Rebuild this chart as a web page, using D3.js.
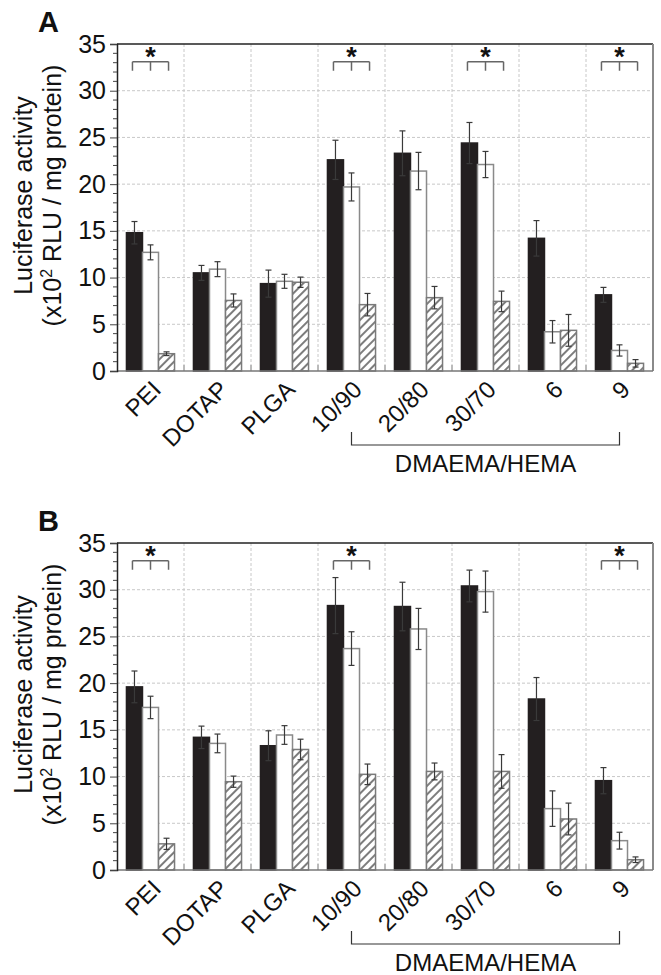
<!DOCTYPE html>
<html>
<head>
<meta charset="utf-8">
<script src="https://cdn.jsdelivr.net/npm/d3@7"></script>
<style>
  html, body { margin: 0; padding: 0; background: #fff; }
  svg { display: block; font-family: Arial, "Liberation Sans", Helvetica, sans-serif; }
</style>
</head>
<body>
<svg id="chart" width="661" height="975"></svg>
<script>
// ── Data ─────────────────────────────────────────────────────────
const groups = ['PEI', 'DOTAP', 'PLGA', '10/90', '20/80', '30/70', '6', '9'];
const series = ['black', 'white', 'hatched'];
const yTicks = [0, 5, 10, 15, 20, 25, 30, 35];

const aBlack      = [14.8, 10.5, 9.35, 22.6, 23.3, 24.4, 14.2, 8.15];
const aBlackErr   = [1.2, 0.8, 1.45, 2.1, 2.4, 2.2, 1.9, 0.8];
const aWhite      = [12.7, 10.9, 9.6, 19.7, 21.4, 22.1, 4.2, 2.2];
const aWhiteErr   = [0.8, 0.8, 0.75, 1.5, 2.0, 1.4, 1.2, 0.6];
const aHatched    = [1.85, 7.55, 9.5, 7.1, 7.85, 7.45, 4.35, 0.82];
const aHatchedErr = [0.2, 0.7, 0.55, 1.2, 1.2, 1.1, 1.7, 0.4];
const aSig        = ['PEI', '10/90', '30/70', '9'];

const bBlack      = [19.6, 14.2, 13.3, 28.3, 28.2, 30.4, 18.3, 9.56];
const bBlackErr   = [1.7, 1.2, 1.6, 3.0, 2.6, 1.7, 2.3, 1.4];
const bWhite      = [17.4, 13.55, 14.45, 23.7, 25.8, 29.8, 6.57, 3.14];
const bWhiteErr   = [1.2, 1.0, 1.0, 1.8, 2.2, 2.2, 1.9, 0.9];
const bHatched    = [2.8, 9.45, 12.9, 10.24, 10.55, 10.55, 5.46, 1.1];
const bHatchedErr = [0.6, 0.6, 1.1, 1.1, 0.9, 1.8, 1.7, 0.3];
const bSig        = ['PEI', '10/90', '9'];

const sigLevel = 33.1;
const bracketGroups = ['10/90', '9'];
const bracketLabel = 'DMAEMA/HEMA';

// ── Layout ───────────────────────────────────────────────────────
const W = 536, H = 327, left = 117;
const svg = d3.select('#chart');

const defs = svg.append('defs');
const pat = defs.append('pattern')
  .attr('id', 'hatch')
  .attr('patternUnits', 'userSpaceOnUse')
  .attr('width', 6).attr('height', 6)
  .attr('patternTransform', 'rotate(45)');
pat.append('rect').attr('width', 6).attr('height', 6).attr('fill', '#fff');
pat.append('line')
  .attr('x1', 1).attr('y1', 0).attr('x2', 1).attr('y2', 6)
  .attr('stroke', '#111').attr('stroke-width', 1.1);

const FILL = { black: '#231f20', white: '#fff', hatched: 'url(#hatch)' };
const STROKE = { black: '#231f20', white: '#8a8a8a', hatched: '#7a7a7a' };

function drawPanel(top, letter, vals, errs, sig) {
  const g = svg.append('g').attr('transform', `translate(${left},${top})`);

  const x = d3.scaleBand().domain(groups).range([0, W]);
  const xs = d3.scaleBand().domain(series).range([0, x.bandwidth()]).paddingOuter(0.59);
  const y = d3.scaleLinear().domain([0, 35]).range([H, 0]);

  // grid
  g.append('g').selectAll('line')
    .data(yTicks.filter(t => t > 0 && t < 35))
    .join('line')
    .attr('x1', 0).attr('x2', W)
    .attr('y1', d => y(d)).attr('y2', d => y(d))
    .attr('stroke', '#c8c8c8').attr('stroke-dasharray', '3,2');
  g.append('g').selectAll('line')
    .data(d3.range(1, groups.length))
    .join('line')
    .attr('x1', d => d * x.step()).attr('x2', d => d * x.step())
    .attr('y1', 0).attr('y2', H - 6)
    .attr('stroke', '#c8c8c8').attr('stroke-dasharray', '3,2');
  // small ticks at group boundaries on the baseline
  g.append('g').selectAll('line')
    .data(d3.range(1, groups.length))
    .join('line')
    .attr('x1', d => d * x.step()).attr('x2', d => d * x.step())
    .attr('y1', H - 6).attr('y2', H)
    .attr('stroke', '#777');

  // bars
  const rows = groups.flatMap((grp, i) =>
    series.map((s, k) => ({ grp, s, v: vals[k][i], e: errs[k][i] })));

  g.append('g').selectAll('rect')
    .data(rows)
    .join('rect')
    .attr('x', d => x(d.grp) + xs(d.s))
    .attr('y', d => y(d.v))
    .attr('width', xs.bandwidth())
    .attr('height', d => H - y(d.v))
    .attr('fill', d => FILL[d.s])
    .attr('stroke', d => STROKE[d.s])
    .attr('stroke-width', 1.5);

  // error bars
  const eb = g.append('g').attr('stroke', '#3a3a3a').attr('stroke-width', 1.2);
  rows.forEach(d => {
    const cx = x(d.grp) + xs(d.s) + xs.bandwidth() / 2;
    const y1 = y(d.v + d.e), y2 = y(d.v - d.e);
    eb.append('line').attr('x1', cx).attr('x2', cx).attr('y1', y1).attr('y2', y2);
    eb.append('line').attr('x1', cx - 3).attr('x2', cx + 3).attr('y1', y1).attr('y2', y1);
    eb.append('line').attr('x1', cx - 3).attr('x2', cx + 3).attr('y1', y2).attr('y2', y2);
  });

  // frame
  g.append('line').attr('x1', 0).attr('x2', W).attr('y1', 0).attr('y2', 0)
    .attr('stroke', '#222').attr('stroke-width', 1.5);
  g.append('line').attr('x1', W).attr('x2', W).attr('y1', 0).attr('y2', H)
    .attr('stroke', '#8a8a8a').attr('stroke-width', 2);
  g.append('line').attr('x1', 0).attr('x2', W).attr('y1', H).attr('y2', H)
    .attr('stroke', '#777').attr('stroke-width', 1.5);

  // y axis
  const yAxis = g.append('g')
    .call(d3.axisLeft(y).tickValues(yTicks).tickSize(7).tickPadding(4));
  yAxis.select('.domain').attr('stroke', '#222').attr('stroke-width', 1.5);
  yAxis.selectAll('.tick line').attr('stroke', '#444');
  yAxis.selectAll('.tick text')
    .attr('font-size', 25).attr('fill', '#111')
    .attr('font-family', 'Arial, "Liberation Sans", sans-serif');
  // minor ticks
  g.append('g').selectAll('line')
    .data(d3.range(0, 36).filter(v => v % 5 !== 0))
    .join('line')
    .attr('x1', -4).attr('x2', 0)
    .attr('y1', d => y(d)).attr('y2', d => y(d))
    .attr('stroke', '#444');

  // x labels, rotated 45 degrees, anchored at their end
  const lx = d => x(d) + x.bandwidth() / 2 + 12;
  const ly = H + 20;
  g.append('g').selectAll('text')
    .data(groups)
    .join('text')
    .attr('x', lx)
    .attr('y', ly)
    .attr('transform', d => `rotate(-45 ${lx(d)} ${ly})`)
    .attr('text-anchor', 'end')
    .attr('font-size', 24)
    .attr('fill', '#111')
    .text(d => d);

  // y title
  const yt = g.append('text')
    .attr('transform', `translate(-85,${H / 2 - 12}) rotate(-90)`)
    .attr('text-anchor', 'middle')
    .attr('font-size', 25)
    .attr('fill', '#111');
  yt.append('tspan').attr('x', 0).attr('dy', 0).text('Luciferase activity');
  const l2 = yt.append('tspan').attr('x', 0).attr('dy', 29);
  l2.append('tspan').text('(x10');
  l2.append('tspan').attr('font-size', 16).attr('dy', -9).text('2');
  l2.append('tspan').attr('dy', 9).text(' RLU / mg protein)');

  // panel letter
  svg.append('text')
    .attr('x', left - 79).attr('y', top - 12)
    .attr('font-size', 29).attr('font-weight', 'bold')
    .attr('fill', '#111')
    .text(letter);

  // significance brackets
  const sy = y(sigLevel);
  sig.forEach(grp => {
    const x0 = x(grp) + xs('black') + 6;
    const x1 = x(grp) + xs('hatched') + xs.bandwidth() - 6;
    const xm = (x0 + x1) / 2;
    const sg = g.append('g').attr('stroke', '#666').attr('stroke-width', 1.5);
    sg.append('line').attr('x1', x0).attr('x2', x1).attr('y1', sy).attr('y2', sy);
    [x0, xm, x1].forEach(xx => {
      sg.append('line').attr('x1', xx).attr('x2', xx).attr('y1', sy).attr('y2', sy + 9);
    });
    g.append('text')
      .attr('x', xm).attr('y', sy + 4)
      .attr('text-anchor', 'middle')
      .attr('font-size', 27).attr('font-weight', 'bold')
      .attr('fill', '#111')
      .text('*');
  });

  // DMAEMA/HEMA bracket
  const bx0 = x(bracketGroups[0]) + x.bandwidth() / 2;
  const bx1 = x(bracketGroups[1]) + x.bandwidth() / 2;
  const by = H + 74;
  const bg = g.append('g').attr('stroke', '#333').attr('stroke-width', 1.2).attr('fill', 'none');
  bg.append('path').attr('d', `M${bx0},${by - 13}V${by}H${bx1}V${by - 13}`);
  g.append('text')
    .attr('x', (bx0 + bx1) / 2).attr('y', by + 27)
    .attr('text-anchor', 'middle')
    .attr('font-size', 24)
    .attr('fill', '#111')
    .text(bracketLabel);
}

drawPanel(44, 'A', [aBlack, aWhite, aHatched], [aBlackErr, aWhiteErr, aHatchedErr], aSig);
drawPanel(543, 'B', [bBlack, bWhite, bHatched], [bBlackErr, bWhiteErr, bHatchedErr], bSig);
</script>
</body>
</html>
